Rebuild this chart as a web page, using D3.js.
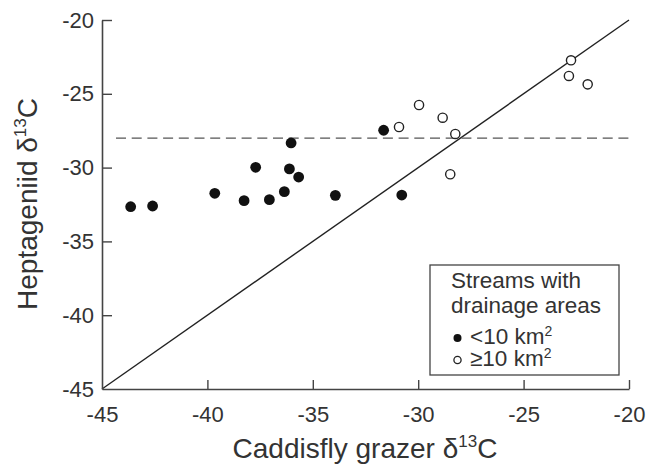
<!DOCTYPE html>
<html>
<head>
<meta charset="utf-8">
<script src="https://cdn.jsdelivr.net/npm/d3@7/dist/d3.min.js"></script>
<style>
  html, body { margin: 0; padding: 0; background: #fff; }
  svg { display: block; font-family: "Liberation Sans", Arial, Helvetica, sans-serif; }
</style>
</head>
<body>
<svg id="chart" width="654" height="467"></svg>
<script>
// Caddisfly grazer vs heptageniid carbon isotope values per stream
const smallX = [-43.64, -42.6, -39.65, -38.26, -37.06, -36.35, -37.71, -36.11, -35.67, -36.03, -33.93, -31.64, -30.78];
const smallY = [-32.65, -32.6, -31.74, -32.24, -32.17, -31.63, -29.98, -30.09, -30.64, -28.33, -31.88, -27.47, -31.86];
const largeX = [-30.91, -29.96, -28.84, -28.24, -28.48, -22.75, -22.85, -21.96];
const largeY = [-27.25, -25.76, -26.62, -27.72, -30.45, -22.73, -23.79, -24.36];
const xTicks = [-45, -40, -35, -30, -25, -20];
const yTicks = [-45, -40, -35, -30, -25, -20];
const domainXY = [-45, -20];
const thresholdY = -28;
const legendTitle = ["Streams with", "drainage areas"];
const legendLabels = ["<10 km", "\u226510 km"];

const svg = d3.select("#chart");
const x = d3.scaleLinear().domain(domainXY).range([102, 629]);
const y = d3.scaleLinear().domain(domainXY).range([389, 20]);

const axisColor = "#444";
const textColor = "#333";

// 1:1 reference line
svg.append("line")
  .attr("x1", x(domainXY[0])).attr("y1", y(domainXY[0]))
  .attr("x2", x(domainXY[1])).attr("y2", y(domainXY[1]))
  .attr("stroke", "#222").attr("stroke-width", 1.4);

// Horizontal threshold line
svg.append("line")
  .attr("x1", 116).attr("x2", x(-20))
  .attr("y1", y(thresholdY)).attr("y2", y(thresholdY))
  .attr("stroke", "#555").attr("stroke-width", 1.4)
  .attr("stroke-dasharray", "10,5.7");

// Axes (plain hyphen-minus labels)
const fmt = d => String(d);
const gx = svg.append("g").attr("transform", `translate(0,${y(-45)})`)
  .call(d3.axisBottom(x).tickValues(xTicks).tickFormat(fmt).tickSizeInner(-9).tickSizeOuter(0).tickPadding(17));
const gy = svg.append("g").attr("transform", `translate(${x(-45)},0)`)
  .call(d3.axisLeft(y).tickValues(yTicks).tickFormat(fmt).tickSizeInner(-10).tickSizeOuter(0).tickPadding(8));
[gx, gy].forEach(g => {
  g.select(".domain").attr("stroke", axisColor).attr("stroke-width", 1.6);
  g.selectAll(".tick line").attr("stroke", axisColor).attr("stroke-width", 1.4);
  g.selectAll(".tick text").attr("fill", textColor).style("font-size", "22px")
    .style("font-family", "'Liberation Sans', Arial, sans-serif");
});
gy.selectAll(".tick")
  .filter(d => d === -45)
  .select("line").remove();
gx.selectAll(".tick")
  .filter(d => d === -45)
  .select("line").remove();

// Points: small drainage area streams (filled)
svg.append("g").selectAll("circle")
  .data(smallX.map((v, i) => [v, smallY[i]]))
  .join("circle")
  .attr("cx", d => x(d[0])).attr("cy", d => y(d[1]))
  .attr("r", 5.4).attr("fill", "#111");

// Points: large drainage area streams (open)
svg.append("g").selectAll("circle")
  .data(largeX.map((v, i) => [v, largeY[i]]))
  .join("circle")
  .attr("cx", d => x(d[0])).attr("cy", d => y(d[1]))
  .attr("r", 4.6).attr("fill", "#fff").attr("stroke", "#222").attr("stroke-width", 1.4);

// Axis titles
const xt = svg.append("text")
  .attr("x", 365).attr("y", 458).attr("text-anchor", "middle")
  .attr("fill", textColor).style("font-size", "28px");
xt.append("tspan").text("Caddisfly grazer \u03b4");
xt.append("tspan").attr("dy", -11).style("font-size", "17px").text("13");
xt.append("tspan").attr("dy", 11).text("C");

const yt = svg.append("text")
  .attr("transform", "translate(37,204) rotate(-90)")
  .attr("text-anchor", "middle")
  .attr("fill", textColor).style("font-size", "28px");
yt.append("tspan").text("Heptageniid \u03b4");
yt.append("tspan").attr("dy", -11).style("font-size", "17px").text("13");
yt.append("tspan").attr("dy", 11).text("C");

// Legend
const lg = svg.append("g");
lg.append("rect")
  .attr("x", 430).attr("y", 265).attr("width", 189).attr("height", 110)
  .attr("fill", "#fff").attr("stroke", axisColor).attr("stroke-width", 1.3);
legendTitle.forEach((t, i) => {
  lg.append("text").attr("x", 451).attr("y", 288 + i * 25)
    .attr("fill", textColor).style("font-size", "22.5px").text(t);
});
const legendRows = [
  { label: legendLabels[0], fill: "#111", stroke: "none", r: 4, cy: 338, by: 344 },
  { label: legendLabels[1], fill: "#fff", stroke: "#222", r: 3.6, cy: 360, by: 366 }
];
legendRows.forEach(row => {
  lg.append("circle").attr("cx", 457.5).attr("cy", row.cy).attr("r", row.r)
    .attr("fill", row.fill).attr("stroke", row.stroke).attr("stroke-width", 1.3);
  const t = lg.append("text").attr("x", 470).attr("y", row.by)
    .attr("fill", textColor).style("font-size", "22.5px");
  t.append("tspan").text(row.label);
  t.append("tspan").attr("dy", -8).style("font-size", "14px").text("2");
});
</script>
</body>
</html>
